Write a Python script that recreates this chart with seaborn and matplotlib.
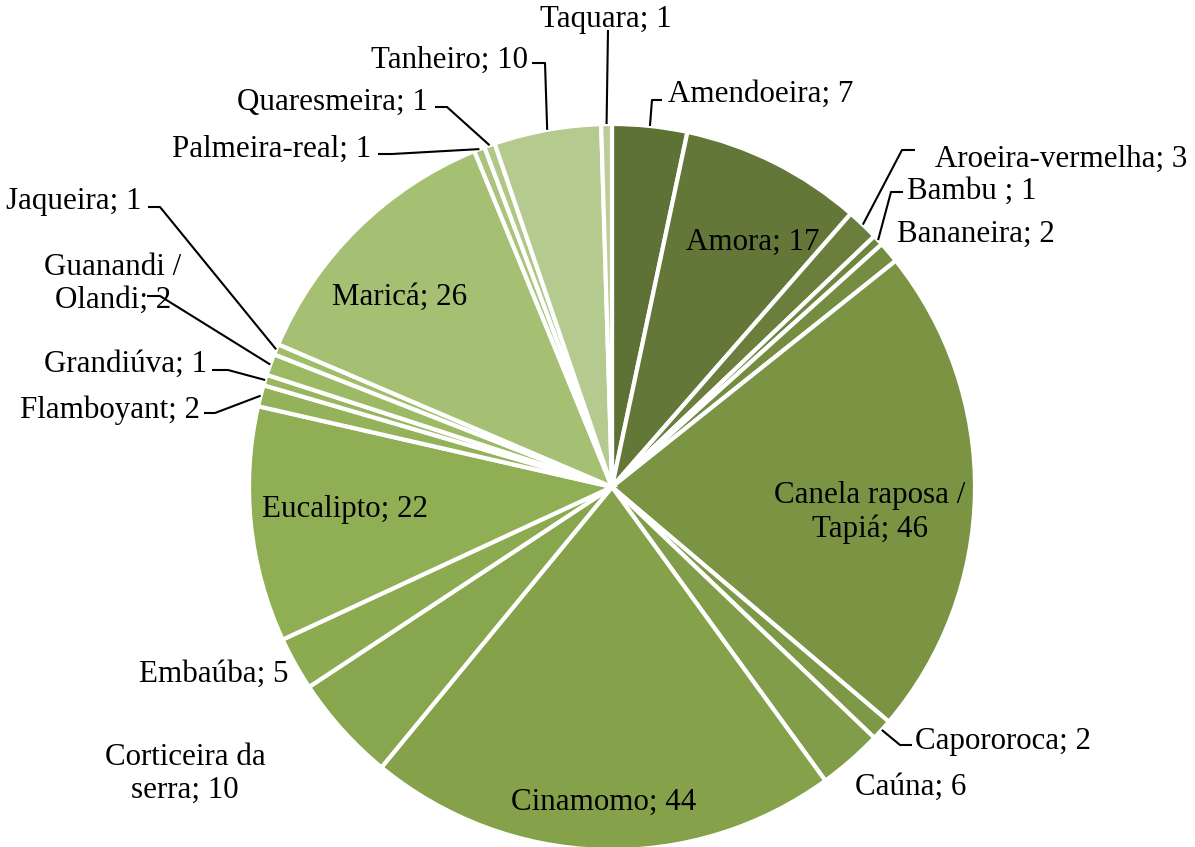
import numpy as np
import matplotlib.pyplot as plt
import seaborn as sns

# Data (clockwise from 12 o'clock)
species = ['Amendoeira', 'Amora', 'Aroeira-vermelha', 'Bambu ', 'Bananeira',
           'Canela raposa /\nTapiá', 'Capororoca', 'Caúna', 'Cinamomo',
           'Corticeira da\nserra', 'Embaúba', 'Eucalipto', 'Flamboyant',
           'Grandiúva', 'Guanandi /\nOlandi', 'Jaqueira', 'Maricá',
           'Palmeira-real', 'Quaresmeira', 'Tanheiro', 'Taquara']
counts = [7, 17, 3, 1, 2, 46, 2, 6, 44, 10, 5, 22, 2, 1, 2, 1, 26, 1, 1, 10, 1]

# label layout in pixel coords: (x, y, ha)
label_pos = {
    'Amendoeira': (668, 92, 'left'), 'Amora': (753, 240, 'center'),
    'Aroeira-vermelha': (935, 157, 'left'), 'Bambu ': (907, 189, 'left'),
    'Bananeira': (897, 232, 'left'), 'Canela raposa /\nTapiá': (870, 510, 'center'),
    'Capororoca': (915, 740, 'left'), 'Caúna': (911, 785, 'center'),
    'Cinamomo': (604, 800, 'center'), 'Corticeira da\nserra': (185, 772, 'center'),
    'Embaúba': (214, 672, 'center'), 'Eucalipto': (345, 508, 'center'),
    'Flamboyant': (200, 408, 'right'), 'Grandiúva': (207, 362, 'right'),
    'Guanandi /\nOlandi': (113, 282, 'center'), 'Jaqueira': (142, 200, 'right'),
    'Maricá': (400, 295, 'center'), 'Palmeira-real': (371, 147, 'right'),
    'Quaresmeira': (428, 100, 'right'), 'Tanheiro': (528, 58, 'right'),
    'Taquara': (606, 18, 'center'),
}
# leader lines: elbow point and end point near the label
leaders = {
    'Amendoeira': ((652, 100), (662, 100)),
    'Aroeira-vermelha': ((902, 150), (915, 150)),
    'Bambu ': ((891, 192), (903, 192)),
    'Capororoca': ((900, 745), (912, 745)),
    'Flamboyant': ((215, 413), (204, 413)),
    'Grandiúva': ((228, 370), (212, 370)),
    'Guanandi /\nOlandi': ((160, 296), (147, 296)),
    'Jaqueira': ((160, 207), (148, 207)),
    'Palmeira-real': ((392, 154), (378, 154)),
    'Quaresmeira': ((447, 107), (435, 107)),
    'Tanheiro': ((545, 63), (532, 63)),
    'Taquara': ((608, 30), (608, 30)),
}

sns.set_style('white')
plt.rcParams['font.family'] = ['Liberation Serif', 'DejaVu Serif']

colors = sns.blend_palette(['#5E7235', '#7A9444', '#8CAB50', '#A0BD68', '#BACD98'],
                           n_colors=len(counts))

W, H = 1195, 847
cx, cy, r = 612, 487, 363

fig = plt.figure(figsize=(W / 100, H / 100), dpi=100)
ax = fig.add_axes([0, 0, 1, 1])

# y axis is inverted, so counterclock in data = clockwise on screen
ax.pie(counts, colors=colors, startangle=-90, counterclock=True,
       center=(cx, cy), radius=r, frame=True,
       wedgeprops=dict(edgecolor='white', linewidth=3))
ax.set_xlim(0, W)
ax.set_ylim(H, 0)
ax.set_aspect('equal')
ax.axis('off')

total = sum(counts)
cum = np.cumsum([0] + counts)
fs = 22.3
for i, (name, val) in enumerate(zip(species, counts)):
    x, y, ha = label_pos[name]
    ax.text(x, y + 2, f'{name}; {val}', ha=ha, va='center', fontsize=fs,
            color='black', linespacing=1.2, multialignment='center')
    if name in leaders:
        mid = (cum[i] + val / 2) / total * 2 * np.pi
        wx, wy = cx + r * np.sin(mid), cy - r * np.cos(mid)
        (ex, ey), (tx, ty) = leaders[name]
        ax.plot([wx, ex, tx], [wy, ey, ty], color='black', lw=1.5,
                solid_capstyle='butt', clip_on=False)

fig.savefig('out.png', dpi=100)
